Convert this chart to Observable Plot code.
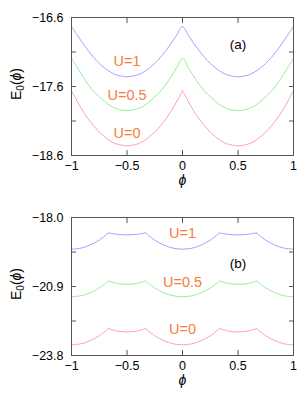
<!DOCTYPE html>
<html><head><meta charset="utf-8">
<script src="https://cdn.jsdelivr.net/npm/d3@7"></script>
<script src="https://cdn.jsdelivr.net/npm/@observablehq/plot@0.6"></script>
<style>body{margin:0;background:#fff} #c svg{display:block}</style>
</head><body><div id="c"></div>
<script>
// ---------- data: panel (a) ----------
const phiA = [-1,-0.95,-0.9,-0.85,-0.8,-0.75,-0.7,-0.65,-0.6,-0.55,-0.5,-0.45,-0.4,-0.35,-0.3,-0.25,-0.2,-0.15,-0.1,-0.05,0,
  0.05,0.1,0.15,0.2,0.25,0.3,0.35,0.4,0.45,0.5,0.55,0.6,0.65,0.7,0.75,0.8,0.85,0.9,0.95,1];
const aU0 = [-17.66,-17.81,-17.95,-18.07,-18.17,-18.26,-18.33,-18.39,-18.43,-18.45,-18.46,
  -18.45,-18.43,-18.39,-18.33,-18.26,-18.17,-18.07,-17.95,-17.81,-17.66,
  -17.81,-17.95,-18.07,-18.17,-18.26,-18.33,-18.39,-18.43,-18.45,-18.46,
  -18.45,-18.43,-18.39,-18.33,-18.26,-18.17,-18.07,-17.95,-17.81,-17.66];
const aU05 = [-17.19,-17.32,-17.45,-17.57,-17.67,-17.75,-17.82,-17.88,-17.92,-17.94,-17.95,
  -17.94,-17.92,-17.88,-17.82,-17.75,-17.67,-17.57,-17.45,-17.32,-17.19,
  -17.32,-17.45,-17.57,-17.67,-17.75,-17.82,-17.88,-17.92,-17.94,-17.95,
  -17.94,-17.92,-17.88,-17.82,-17.75,-17.67,-17.57,-17.45,-17.32,-17.19];
const aU1 = [-16.73,-16.85,-16.97,-17.08,-17.18,-17.265,-17.335,-17.39,-17.43,-17.45,-17.46,
  -17.45,-17.43,-17.39,-17.335,-17.265,-17.18,-17.08,-16.97,-16.85,-16.73,
  -16.85,-16.97,-17.08,-17.18,-17.265,-17.335,-17.39,-17.43,-17.45,-17.46,
  -17.45,-17.43,-17.39,-17.335,-17.265,-17.18,-17.08,-16.97,-16.85,-16.73];
const cuspsA_U0 = [0];
const yTicksA = [-16.6, -17.6, -18.6];
const yMinorA = [-17.1, -18.1];
const labelTextA = ["U=1", "U=0.5", "U=0"];
const labelXA = [-0.5, -0.5, -0.5];
const labelYA = [-17.24, -17.73, -18.28];
const tagA = {text: "(a)", x: 0.5, y: -16.99};

// ---------- data: panel (b) ----------
const phiB = [-1,-0.9167,-0.8333,-0.75,-0.6667,-0.5833,-0.5,-0.4167,-0.3333,-0.25,-0.1667,-0.0833,0,
  0.0833,0.1667,0.25,0.3333,0.4167,0.5,0.5833,0.6667,0.75,0.8333,0.9167,1];
const bU1 = [-19.33,-19.29,-19.16,-18.95,-18.65,-18.71,-18.73,-18.71,-18.65,-18.95,-19.16,-19.29,-19.33,
  -19.29,-19.16,-18.95,-18.65,-18.71,-18.73,-18.71,-18.65,-18.95,-19.16,-19.29,-19.33];
const bU05 = [-21.33,-21.29,-21.165,-20.96,-20.67,-20.775,-20.81,-20.775,-20.67,-20.96,-21.165,-21.29,-21.33,
  -21.29,-21.165,-20.96,-20.67,-20.775,-20.81,-20.775,-20.67,-20.96,-21.165,-21.29,-21.33];
const bU0 = [-23.35,-23.31,-23.18,-22.97,-22.67,-22.775,-22.81,-22.775,-22.67,-22.97,-23.18,-23.31,-23.35,
  -23.31,-23.18,-22.97,-22.67,-22.775,-22.81,-22.775,-22.67,-22.97,-23.18,-23.31,-23.35];
const cuspsB = [-0.6667, -0.3333, 0.3333, 0.6667];
const yTicksB = [-18.0, -20.9, -23.8];
const yMinorB = [-19.45, -22.35];
const labelTextB = ["U=1", "U=0.5", "U=0"];
const labelXB = [0, 0, 0];
const labelYB = [-18.68, -20.74, -22.70];
const tagB = {text: "(b)", x: 0.5, y: -19.95};

const xTicks = [-1, -0.5, 0, 0.5, 1];
const colU1 = "#a3a3ff", colU05 = "#96ef96", colU0 = "#ffa3a3", colLab = "#f57d3d";

function rows(phi, vals, cusps, key) {
  const out = []; let seg = 0;
  phi.forEach((p, i) => {
    out.push({phi: p, E: vals[i], seg: key + seg});
    if (i > 0 && i < phi.length - 1 && cusps.some(c => Math.abs(c - p) < 1e-3)) {
      seg++;
      out.push({phi: p, E: vals[i], seg: key + seg});
    }
  });
  return out;
}

function panel(o) {
  const labels = o.labelText.map((t, i) => ({t, x: o.labelX[i], y: o.labelY[i]}));
  const fmtX = d3.format("");
  const svg = Plot.plot({
    width: 308, height: 200,
    marginTop: 17, marginBottom: 45, marginLeft: 71, marginRight: 15,
    style: {fontFamily: "'Liberation Sans', Arial, sans-serif", fontSize: "12px", color: "#000", background: "#fff"},
    x: {domain: [-1, 1]},
    y: {domain: o.ydomain},
    marks: [
      Plot.line(o.series[0], {x: "phi", y: "E", z: "seg", stroke: colU0, strokeWidth: 1, curve: "catmull-rom"}),
      Plot.line(o.series[1], {x: "phi", y: "E", z: "seg", stroke: colU05, strokeWidth: 1, curve: "catmull-rom"}),
      Plot.line(o.series[2], {x: "phi", y: "E", z: "seg", stroke: colU1, strokeWidth: 1, curve: "catmull-rom"}),
      Plot.frame({stroke: "#555"}),
      Plot.axisX({ticks: xTicks, tickSize: -5, tickPadding: 11, tickFormat: fmtX, label: null, stroke: "#555", fontSize: 12.5}),
      Plot.axisX({anchor: "top", ticks: xTicks, tickSize: -5, tickFormat: () => "", label: null, stroke: "#555"}),
      Plot.axisY({ticks: o.yTicks, tickSize: -5, tickPadding: 13, tickFormat: d3.format(".1f"), label: null, stroke: "#555", fontSize: 12.5}),
      Plot.axisY({ticks: o.yMinor, tickSize: -5, tickFormat: () => "", label: null, stroke: "#555"}),
      Plot.axisY({anchor: "right", ticks: [...o.yTicks, ...o.yMinor], tickSize: -5, tickFormat: () => "", label: null, stroke: "#555"}),
      Plot.text(labels, {x: "x", y: "y", text: "t", fill: colLab, fontSize: 14.5}),
      Plot.text([o.tag], {x: "x", y: "y", text: "text", fill: "#000", fontSize: 13.5}),
      Plot.text(["ϕ"], {text: d => d, frameAnchor: "bottom", dy: 29.5, fontSize: 14, fontStyle: "italic"})
    ]
  });
  const t = d3.select(svg).append("text")
    .attr("transform", `translate(17,${17 + (200 - 17 - 45) / 2 - 2}) rotate(-90)`)
    .attr("text-anchor", "middle").attr("dominant-baseline", "middle")
    .attr("font-size", 14).attr("fill", "#000")
    .attr("font-family", "'Liberation Sans', Arial, sans-serif");
  t.append("tspan").text("E");
  t.append("tspan").attr("font-size", 10).attr("dy", 4).text("0");
  t.append("tspan").attr("dy", -4).text("(");
  t.append("tspan").attr("font-style", "italic").text("ϕ");
  t.append("tspan").text(")");
  return svg;
}

const c = document.getElementById("c");
c.appendChild(panel({
  ydomain: [-18.6, -16.6], yTicks: yTicksA, yMinor: yMinorA,
  series: [rows(phiA, aU0, cuspsA_U0, "u0"), rows(phiA, aU05, [], "u05"), rows(phiA, aU1, [], "u1")],
  labelText: labelTextA, labelX: labelXA, labelY: labelYA, tag: tagA
}));
c.appendChild(panel({
  ydomain: [-23.8, -18.0], yTicks: yTicksB, yMinor: yMinorB,
  series: [rows(phiB, bU0, cuspsB, "u0"), rows(phiB, bU05, cuspsB, "u05"), rows(phiB, bU1, cuspsB, "u1")],
  labelText: labelTextB, labelX: labelXB, labelY: labelYB, tag: tagB
}));
</script>
</body></html>
